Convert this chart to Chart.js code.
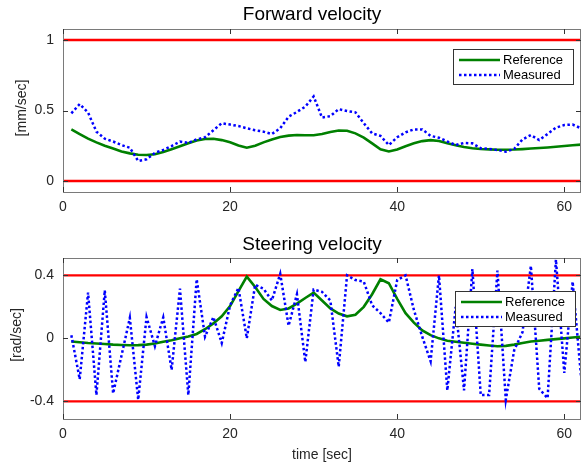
<!DOCTYPE html>
<html><head><meta charset="utf-8">
<script src="https://cdn.jsdelivr.net/npm/chart.js@4"></script>
<style>
html,body{margin:0;padding:0;background:#fff;}
#wrap{position:relative;width:582px;height:466px;overflow:hidden;background:#fff}
canvas{position:absolute;left:0}
</style></head><body>
<div id="wrap">
<canvas id="c1" width="582" height="230" style="top:0"></canvas>
<canvas id="c2" width="582" height="236" style="top:230px"></canvas>
</div>
<script>
const time = [1,2,3,4,5,6,7,8,9,10,11,12,13,14,15,16,17,18,19,20,21,22,23,24,25,26,27,28,29,30,31,32,33,34,35,36,37,38,39,40,41,42,43,44,45,46,47,48,49,50,51,52,53,54,55,56,57,58,59,60,61,62];

const forwardRef = [0.366,0.333,0.300,0.274,0.250,0.230,0.210,0.196,0.186,0.184,0.190,0.205,0.225,0.246,0.268,0.287,0.298,0.300,0.290,0.275,0.252,0.236,0.250,0.274,0.295,0.312,0.322,0.326,0.324,0.324,0.333,0.348,0.358,0.356,0.338,0.308,0.267,0.225,0.210,0.224,0.247,0.267,0.283,0.290,0.284,0.268,0.253,0.241,0.232,0.227,0.224,0.222,0.222,0.223,0.226,0.230,0.234,0.238,0.243,0.248,0.253,0.258];
const forwardMeas = [0.480,0.546,0.485,0.350,0.300,0.280,0.255,0.236,0.142,0.154,0.200,0.220,0.248,0.280,0.270,0.295,0.310,0.360,0.410,0.400,0.390,0.374,0.360,0.350,0.333,0.374,0.456,0.490,0.527,0.600,0.450,0.460,0.510,0.496,0.487,0.410,0.338,0.320,0.255,0.310,0.345,0.366,0.366,0.320,0.307,0.280,0.255,0.270,0.267,0.232,0.227,0.220,0.208,0.227,0.295,0.326,0.290,0.333,0.378,0.397,0.400,0.374];

const steerRef = [-0.020,-0.025,-0.030,-0.033,-0.036,-0.040,-0.042,-0.044,-0.043,-0.040,-0.033,-0.022,-0.012,0.000,0.012,0.028,0.058,0.095,0.140,0.205,0.300,0.392,0.326,0.250,0.205,0.180,0.190,0.220,0.256,0.290,0.240,0.190,0.157,0.140,0.150,0.200,0.280,0.375,0.350,0.250,0.160,0.100,0.050,0.020,0.000,-0.015,-0.022,-0.028,-0.034,-0.040,-0.045,-0.050,-0.048,-0.040,-0.030,-0.020,-0.015,-0.010,-0.005,0.000,0.005,0.010];
const steerMeas = [0.02,-0.26,0.29,-0.36,0.305,-0.35,-0.11,0.13,-0.39,0.135,-0.05,0.133,-0.20,0.315,-0.36,0.375,0.01,0.135,-0.03,0.21,0.32,0.00,0.34,0.315,0.24,0.41,0.08,0.28,-0.15,0.31,0.295,0.24,-0.18,0.40,0.37,0.36,0.21,0.16,0.10,0.37,0.40,0.18,0.01,-0.146,0.40,-0.33,0.20,-0.33,0.44,-0.36,-0.36,0.43,-0.39,-0.076,0.04,0.46,-0.32,-0.38,0.50,-0.22,0.36,-0.24];

const forwardLimits = [0, 1];
const steerLimits = [-0.4, 0.4];
const timeRange = [0, 62];
const timeTicks = [0, 20, 40, 60];
const forwardTicks = [0, 0.5, 1];
const steerTicks = [-0.4, 0, 0.4];
const seriesNames = ['Reference', 'Measured'];

const FONT = '"Liberation Sans", Arial, Helvetica, sans-serif';

const decorPlugin = {
  id: 'decor',
  afterDatasetsDraw(chart) {
    const o = chart.options.plugins.decor;
    const ctx = chart.ctx, a = chart.chartArea, xs = chart.scales.x, ys = chart.scales.y;
    ctx.save();
    ctx.strokeStyle = '#7a7a7a';
    ctx.lineWidth = 1;
    ctx.strokeRect(Math.round(a.left) + 0.5, Math.round(a.top) + 0.5, Math.round(a.right - a.left) - 1, Math.round(a.bottom - a.top));
    ctx.strokeStyle = '#333';
    ctx.beginPath();
    o.xTicks.forEach(v => {
      const px = Math.round(xs.getPixelForValue(v)) + 0.5;
      ctx.moveTo(px, a.bottom); ctx.lineTo(px, a.bottom - 5);
      ctx.moveTo(px, a.top); ctx.lineTo(px, a.top + 5);
    });
    o.yTicks.forEach(v => {
      const py = Math.round(ys.getPixelForValue(v)) + 0.5;
      ctx.moveTo(a.left, py); ctx.lineTo(a.left + 5, py);
      ctx.moveTo(a.right, py); ctx.lineTo(a.right - 5, py);
    });
    ctx.stroke();
    ctx.restore();
  },
  afterDraw(chart) {
    const o = chart.options.plugins.decor;
    const ctx = chart.ctx;
    ctx.save();
    ctx.fillStyle = '#000';
    ctx.font = '19px ' + FONT;
    ctx.textAlign = 'center';
    ctx.textBaseline = 'alphabetic';
    ctx.fillText(o.title, o.titleX, o.titleY);
    ctx.fillStyle = '#262626';
    ctx.font = '14px ' + FONT;
    ctx.save();
    ctx.translate(o.yTitleX, o.yTitleY);
    ctx.rotate(-Math.PI / 2);
    ctx.textBaseline = 'middle';
    ctx.fillText(o.yTitle, 0, 0);
    ctx.restore();
    if (o.xTitle) {
      ctx.textBaseline = 'middle';
      ctx.fillText(o.xTitle, o.xTitleX, o.xTitleY);
    }
    const L = o.legend;
    ctx.fillStyle = '#fff';
    ctx.fillRect(L.x, L.y, L.w, L.h);
    ctx.strokeStyle = '#333';
    ctx.lineWidth = 1;
    ctx.strokeRect(L.x + 0.5, L.y + 0.5, L.w, L.h);
    const ds = chart.data.datasets;
    [0, 1].forEach(i => {
      const d = ds[i];
      const ry = L.y + 11 + i * 15;
      ctx.beginPath();
      ctx.strokeStyle = d.borderColor;
      ctx.lineWidth = d.borderWidth;
      ctx.setLineDash(d.borderDash || []);
      ctx.moveTo(L.x + 6, ry); ctx.lineTo(L.x + 47, ry);
      ctx.stroke();
      ctx.setLineDash([]);
      ctx.fillStyle = '#000';
      ctx.font = '13px ' + FONT;
      ctx.textAlign = 'left';
      ctx.textBaseline = 'middle';
      ctx.fillText(d.label, L.x + 50, ry + 0.5);
    });
    ctx.restore();
  }
};

function pts(xs, ys) { return xs.map((x, i) => ({x: x, y: ys[i]})); }
function limitLine(v) { return [{x: timeRange[0], y: v}, {x: timeRange[1], y: v}]; }

function makeChart(id, ref, meas, limits, yMin, yMax, yTicks, deco, padTop, xHeight) {
  const datasets = [
    {label: seriesNames[0], data: pts(time, ref), borderColor: '#008000', borderWidth: 2.6, pointRadius: 0, tension: 0, order: 2},
    {label: seriesNames[1], data: pts(time, meas), borderColor: '#0000ff', borderWidth: 2.5, borderDash: [2.5, 2.5], pointRadius: 0, tension: 0, order: 1},
    {label: 'lo', data: limitLine(limits[0]), borderColor: '#ff0000', borderWidth: 2.4, pointRadius: 0, order: 3},
    {label: 'hi', data: limitLine(limits[1]), borderColor: '#ff0000', borderWidth: 2.4, pointRadius: 0, order: 3}
  ];
  return new Chart(document.getElementById(id), {
    type: 'line',
    data: {datasets},
    plugins: [decorPlugin],
    options: {
      responsive: false,
      animation: false,
      events: [],
      layout: {padding: {top: padTop, right: 1, left: 0, bottom: 0}},
      plugins: {legend: {display: false}, tooltip: {enabled: false}, title: {display: false}, decor: deco},
      scales: {
        x: {
          type: 'linear', min: timeRange[0], max: timeRange[1],
          grid: {display: false, drawTicks: false}, border: {display: false},
          afterBuildTicks: s => { s.ticks = timeTicks.map(v => ({value: v})); },
          afterFit: s => { s.height = xHeight; },
          ticks: {color: '#262626', font: {family: FONT, size: 14}, padding: 7, maxRotation: 0, callback: v => String(v)}
        },
        y: {
          type: 'linear', min: yMin, max: yMax,
          grid: {display: false, drawTicks: false}, border: {display: false},
          afterBuildTicks: s => { s.ticks = yTicks.map(v => ({value: v})); },
          afterFit: s => { s.width = 63; },
          ticks: {color: '#262626', font: {family: FONT, size: 14}, padding: 9, callback: v => String(v)}
        }
      }
    }
  });
}

makeChart('c1', forwardRef, forwardMeas, forwardLimits, -0.078, 1.078, forwardTicks, {
  title: 'Forward velocity', titleX: 312, titleY: 20,
  yTitle: '[mm/sec]', yTitleX: 22, yTitleY: 108,
  xTicks: timeTicks, yTicks: forwardTicks,
  legend: {x: 453, y: 49, w: 120, h: 35}
}, 29, 38);

makeChart('c2', steerRef, steerMeas, steerLimits, -0.512, 0.51, steerTicks, {
  title: 'Steering velocity', titleX: 312, titleY: 19.5,
  yTitle: '[rad/sec]', yTitleX: 17, yTitleY: 105,
  xTitle: 'time [sec]', xTitleX: 322, xTitleY: 225,
  xTicks: timeTicks, yTicks: steerTicks,
  legend: {x: 455, y: 61, w: 120, h: 35}
}, 28, 47);
</script>
</body></html>
